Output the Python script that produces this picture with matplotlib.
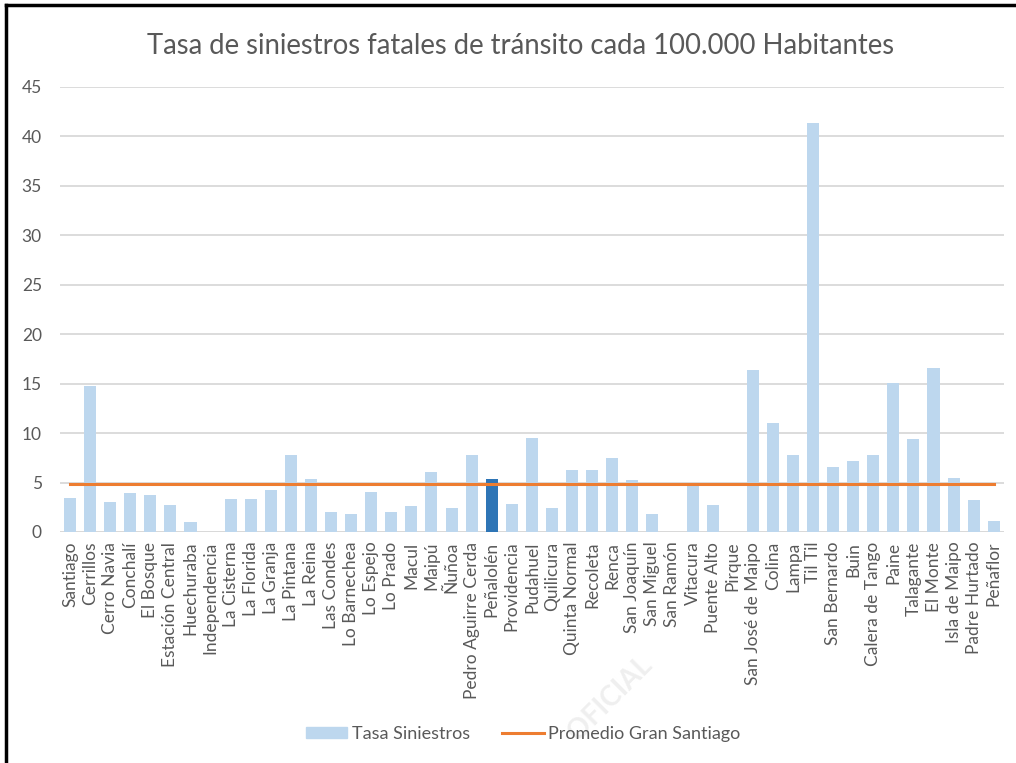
import matplotlib.pyplot as plt
from matplotlib.lines import Line2D
from matplotlib.patches import Patch
import numpy as np

comunas = [
    "Santiago", "Cerrillos", "Cerro Navia", "Conchalí", "El Bosque",
    "Estación Central", "Huechuraba", "Independencia", "La Cisterna",
    "La Florida", "La Granja", "La Pintana", "La Reina", "Las Condes",
    "Lo Barnechea", "Lo Espejo", "Lo Prado", "Macul", "Maipú", "Ñuñoa",
    "Pedro Aguirre Cerda", "Peñalolén", "Providencia", "Pudahuel",
    "Quilicura", "Quinta Normal", "Recoleta", "Renca", "San Joaquín",
    "San Miguel", "San Ramón", "Vitacura", "Puente Alto", "Pirque",
    "San José de Maipo", "Colina", "Lampa", "Til Til", "San Bernardo",
    "Buin", "Calera de Tango", "Paine", "Talagante", "El Monte",
    "Isla de Maipo", "Padre Hurtado", "Peñaflor",
]
tasa = [
    3.4, 14.8, 3.0, 3.9, 3.7, 2.7, 1.0, 0.0, 3.3, 3.3,
    4.2, 7.8, 5.4, 2.0, 1.8, 4.0, 2.0, 2.6, 6.1, 2.4,
    7.8, 5.4, 2.8, 9.5, 2.4, 6.3, 6.3, 7.5, 5.3, 1.8,
    0.0, 4.6, 2.7, 0.0, 16.4, 11.0, 7.8, 41.4, 6.6, 7.2,
    7.8, 15.1, 9.4, 16.6, 5.5, 3.2, 1.1,
]
promedio = 4.9
destacada = "Peñalolén"

light = "#bdd7ee"
dark = "#2e75b6"
orange = "#ed7d31"
gray_txt = "#595959"
grid_c = "#d9d9d9"

plt.rcParams["font.family"] = ["Lato", "DejaVu Sans"]

fig = plt.figure(figsize=(10.16, 7.63), dpi=100)
ax = fig.add_axes([0.059, 0.3028, 0.929, 0.5832])

x = np.arange(len(comunas))
colors = [dark if c == destacada else light for c in comunas]
ax.bar(x, tasa, width=0.6, color=colors, zorder=2)
ax.plot([x[0], x[-1]], [promedio, promedio], color=orange, lw=2.2, zorder=3)

ax.set_xlim(-0.5, len(comunas) - 0.5)
ax.set_ylim(0, 45)
ax.set_yticks(range(0, 50, 5))
ax.yaxis.grid(True, color=grid_c, lw=1.3, zorder=0)
ax.set_axisbelow(True)
for s in ax.spines.values():
    s.set_visible(False)
ax.axhline(0, color=grid_c, lw=1.3, zorder=1)

ax.set_xticks(x)
ax.set_xticklabels(comunas, rotation=90)
ax.tick_params(axis="both", length=0, labelsize=12.5, labelcolor=gray_txt)
ax.tick_params(axis="x", pad=7)
ax.tick_params(axis="y", pad=13)

fig.text(0.512, 0.94, "Tasa de siniestros fatales de tránsito cada 100.000 Habitantes",
         ha="center", va="center", fontsize=19.8, color=gray_txt)

handles = [Patch(color=light), Line2D([0], [0], color=orange, lw=2.2)]
fig.legend(handles, ["Tasa Siniestros", "Promedio Gran Santiago"],
           loc="center", bbox_to_anchor=(0.515, 0.038), ncol=2, frameon=False,
           fontsize=13, labelcolor=gray_txt, handlelength=2.3, handleheight=0.6,
           columnspacing=1.8, handletextpad=0.25)

# faint watermark
fig.text(0.6, 0.085, "OFICIAL", rotation=45, fontsize=20, color="#efefef",
         ha="center", va="center", fontweight="bold", zorder=0)

# frame lines on the top and left edges
fig.add_artist(Line2D([0.006, 1.0], [0.9935, 0.9935], transform=fig.transFigure,
                      color="black", lw=2.5))
fig.add_artist(Line2D([0.006, 0.006], [0.0, 0.9935], transform=fig.transFigure,
                      color="black", lw=2.5))

fig.savefig("out.png", dpi=100)
